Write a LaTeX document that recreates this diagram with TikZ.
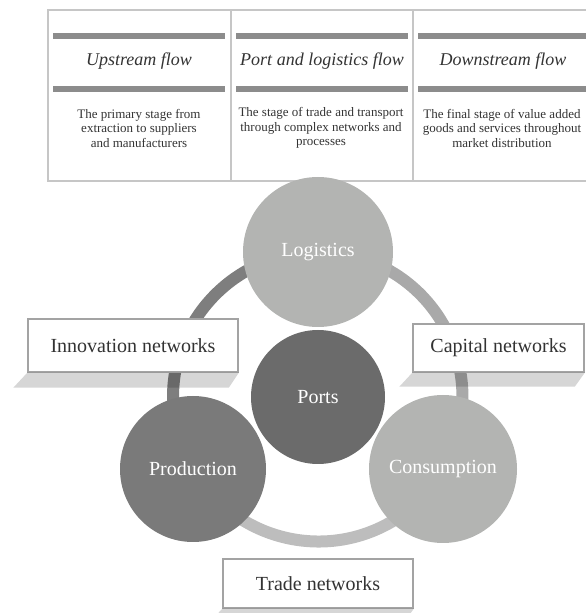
\documentclass[tikz,border=0pt]{standalone}
\usepackage{fontspec}
\setmainfont{Liberation Serif}
\usetikzlibrary{calc,backgrounds}

\definecolor{framegray}{HTML}{C6C6C6}
\definecolor{bargray}{HTML}{8C8C8C}
\definecolor{portsgray}{HTML}{6B6B6B}
\definecolor{prodgray}{HTML}{7A7A7A}
\definecolor{lightgray}{HTML}{B3B4B2}
\definecolor{ringdark}{HTML}{7E7E7E}
\definecolor{ringmid}{HTML}{A9A9A9}
\definecolor{ringlight}{HTML}{BDBDBD}
\definecolor{boxline}{HTML}{A3A3A3}
\definecolor{inkgray}{HTML}{333333}

\tikzset{
  hub/.style={circle, inner sep=0pt, text=white, font=\fontsize{20}{22}\selectfont},
  netbox/.style={draw=boxline, line width=1.5pt, fill=white, text=inkgray,
    font=\fontsize{20}{22}\selectfont},
  flowtitle/.style={font=\fontsize{18}{20}\selectfont\itshape, text=inkgray},
  flowtext/.style={font=\fontsize{13}{14.5}\selectfont, align=center, text=inkgray},
  bar/.style={bargray, line width=6pt},
  ring/.style={line width=12pt},
  boxshadow/.style={fill=black, opacity=0.16}
}

\begin{document}
\begin{tikzpicture}[x=1pt,y=1pt]
\useasboundingbox (0,0) rectangle (586,613);

% Table of the three flows
\draw[framegray, line width=1.2pt] (586,603) -- (48,603) -- (48,432) -- (586,432);
\draw[framegray, line width=1.2pt] (231,603) -- (231,432);
\draw[framegray, line width=1.2pt] (413,603) -- (413,432);

\draw[bar] (53,577) -- (225,577);
\draw[bar] (53,524) -- (225,524);
\draw[bar] (236,577) -- (408,577);
\draw[bar] (236,524) -- (408,524);
\draw[bar] (418,577) -- (586,577);
\draw[bar] (418,524) -- (586,524);

\node[flowtitle] (upflow) at (139,552) {Upstream flow};
\node[flowtitle] (portflow) at (322,552) {Port and logistics flow};
\node[flowtitle] (downflow) at (503,552) {Downstream flow};

\node[flowtext] (uptext) at (139,485) {The primary stage from\\extraction to suppliers\\and manufacturers};
\node[flowtext] (porttext) at (321,485) {The stage of trade and transport\\through complex networks and\\processes};
\node[flowtext] (downtext) at (502,485) {The final stage of value added\\goods and services throughout\\market distribution};

% Cycle of the four stages
\node[hub, fill=portsgray, minimum size=134pt] (ports) at (318,216) {Ports};
\node[hub, fill=lightgray, minimum size=150pt] (logistics) at (318,361) {Logistics};
\node[hub, fill=prodgray, minimum size=146pt] (production) at (193,144) {Production};
\node[hub, fill=lightgray, minimum size=148pt] (consumption) at (443,144) {Consumption};

\begin{scope}[on background layer]
  \draw[ring, ringdark] (logistics.center) arc[start angle=90, end angle=210, radius=145pt];
  \draw[ring, ringmid] (consumption.center) arc[start angle=-30, end angle=90, radius=145pt];
  \draw[ring, ringlight] (production.center) arc[start angle=210, end angle=330, radius=145pt];
\end{scope}

% Network labels with their shadows
\node[netbox, minimum width=210pt, minimum height=53pt] (innovation) at (133,267.5) {Innovation networks};
\node[netbox, minimum width=171pt, minimum height=48pt] (capital) at (498.5,265) {Capital networks};
\node[netbox, minimum width=190pt, minimum height=49pt] (trade) at (318,29.5) {Trade networks};

\fill[boxshadow] (innovation.south west) -- (innovation.south east) -- ++(-10,-15)
  -- ($(innovation.south west)+(-14,-15)$) -- cycle;
\fill[boxshadow] (capital.south west) -- (capital.south east) -- ++(-10,-14)
  -- ($(capital.south west)+(-13,-14)$) -- cycle;
\fill[boxshadow] (trade.south west) -- (trade.south east) -- ++(-10,-14)
  -- ($(trade.south west)+(-13,-14)$) -- cycle;

\end{tikzpicture}
\end{document}
